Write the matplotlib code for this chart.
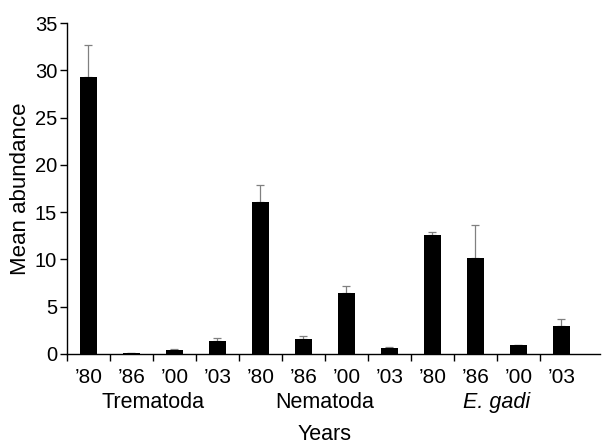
import numpy as np
import matplotlib.pyplot as plt

plt.rcParams['font.family'] = ['Liberation Sans', 'DejaVu Sans']

# data
groups = ["Trematoda", "Nematoda", "E. gadi"]
years = ["\u201980", "\u201986", "\u201900", "\u201903"]
means = [29.3, 0.1, 0.4, 1.4,
         16.1, 1.6, 6.5, 0.6,
         12.6, 10.2, 0.9, 3.0]
err_top = [32.7, 0.15, 0.5, 1.7,
           17.9, 1.9, 7.2, 0.7,
           12.9, 13.6, 1.0, 3.7]

means = np.array(means)
errs = np.array(err_top) - means
x = np.arange(len(means))

fig = plt.figure(figsize=(6.02, 4.45), dpi=100)
ax = fig.add_axes([0.111, 0.2045, 0.886, 0.7435])

ax.bar(x, means, width=0.4, color='black', zorder=2)
ax.errorbar(x, means, yerr=[np.zeros_like(errs), errs], fmt='none',
            ecolor='#808080', elinewidth=0.9, capsize=3, capthick=0.9, zorder=1)

ax.set_xlim(-0.5, 11.9)
ax.set_ylim(0, 35)
ax.set_yticks(range(0, 36, 5))
ax.set_xticks(np.arange(-0.5, 11.5, 1.0))
ax.set_xticklabels([])
ax.tick_params(axis='both', direction='out', length=5, width=1, labelsize=14.5)
ax.tick_params(axis='y', pad=2)
for s in ['top', 'right']:
    ax.spines[s].set_visible(False)
for s in ['left', 'bottom']:
    ax.spines[s].set_linewidth(1)

ax.set_ylabel("Mean abundance", fontsize=16, labelpad=3)

trans = ax.get_xaxis_transform()
for i in x:
    ax.text(i, -0.072, years[i % 4], transform=trans, ha='center', va='center',
            fontsize=15)
for g, name in enumerate(groups):
    cx = g * 4 + 1.5
    if name.startswith("E."):
        ax.text(cx, -0.148, "E. gadi", transform=trans, ha='center', va='center',
                fontsize=15.5, style='italic')
    else:
        ax.text(cx, -0.148, name, transform=trans, ha='center', va='center',
                fontsize=15.5)
ax.text(5.5, -0.243, "Years", transform=trans, ha='center', va='center',
        fontsize=15.5)

fig.savefig("out.png", dpi=100)
